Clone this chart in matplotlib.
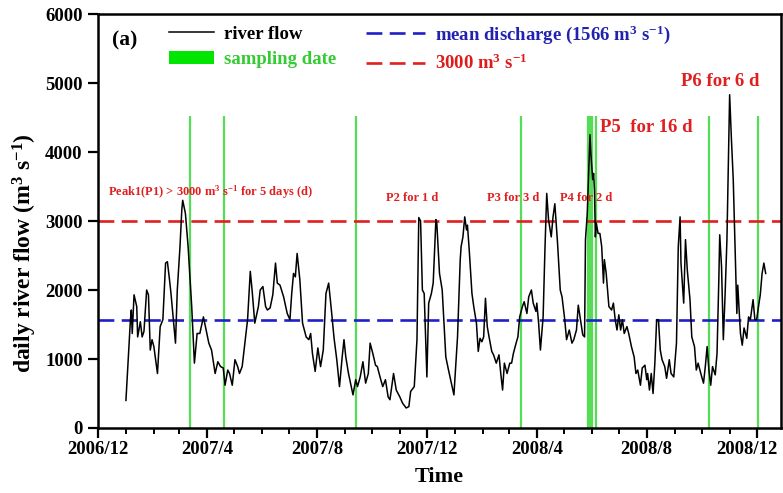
import numpy as np
import pandas as pd
import matplotlib
matplotlib.use('Agg')
import matplotlib.pyplot as plt
import matplotlib.dates as mdates
from matplotlib.lines import Line2D
from matplotlib.patches import Patch
from matplotlib.ticker import FuncFormatter
from matplotlib.transforms import ScaledTranslation

plt.rcParams['font.family'] = ['Liberation Serif', 'DejaVu Serif']
plt.rcParams['font.weight'] = 'bold'
plt.rcParams['mathtext.fontset'] = 'custom'
plt.rcParams['mathtext.rm'] = 'Liberation Serif:bold'
plt.rcParams['mathtext.bf'] = 'Liberation Serif:bold'
plt.rcParams['mathtext.it'] = 'Liberation Serif:bold'
plt.rcParams['mathtext.default'] = 'bf'

# daily river flow (days after 2006-12-01, m3/s)
START = pd.Timestamp('2006-12-01')
flow_day = [31, 36, 37, 38, 40, 43, 44, 47, 49, 51, 54, 56, 58, 60, 62, 66, 69, 72, 75, 77,
            79, 81, 83, 86, 88, 91, 93, 94, 97, 100, 104, 107, 110, 113, 117, 120, 123, 126, 130, 133,
            136, 139, 141, 144, 146, 149, 152, 155, 157, 160, 163, 166, 169, 171, 174, 178,
            180, 183, 186, 188, 191, 194, 197, 199, 202, 206, 210, 213, 215, 217, 219, 221, 224, 227,
            231, 234, 236, 238, 241, 244, 247, 250, 253, 256, 259, 262, 265, 268, 271, 273, 275, 278,
            281, 283, 286, 288, 291, 294, 297, 300, 302, 305, 308, 310, 313, 316, 319, 322, 324, 328,
            331, 335, 338, 342, 345, 347, 351, 354, 356, 358,
            360, 362, 365, 367, 370, 372, 375, 376, 379, 382, 386, 389, 393, 395, 399, 402, 403, 405,
            407, 409, 410, 412, 415, 417, 420, 422, 424, 426, 428, 430, 432, 434, 437, 439, 442, 445,
            447, 449, 451, 454, 457, 459, 461, 464, 466, 468, 471, 473, 476, 478, 481, 483, 486, 487,
            489, 491, 494, 496, 498, 500, 503, 505, 507, 510, 513, 515, 518, 520, 523, 526, 528, 531,
            533, 536, 538, 540,
            541, 543, 545, 546, 547, 549, 550, 551, 552, 553, 555, 557, 559, 561, 562, 564, 567, 570,
            572, 574, 576, 578, 580, 582, 584, 587, 589, 592, 595, 597, 599, 602, 604, 607, 609, 610,
            612, 614, 616, 618, 620, 622, 624, 626, 629, 631, 634, 636, 639, 642, 644, 646, 647, 650,
            652, 654, 657, 659, 662, 664, 666, 669, 672, 674, 676, 678, 680, 682, 685, 687, 689, 690,
            692, 694, 696, 698, 700, 701, 703, 705, 707, 709, 710, 713, 715, 717, 720, 722, 724, 727,
            729, 731, 733, 735, 737, 739, 741]
flow_val = [400, 1570, 1710, 1370, 1930, 1760, 1320, 1540, 1320, 1400, 2000, 1930, 1130, 1280, 1180, 790, 1470, 1570, 2390, 2410,
            2190, 1950, 1660, 1230, 2000, 2630, 3160, 3300, 3110, 2630, 1760, 940, 1370, 1370, 1610, 1420, 1230, 1130, 790, 960,
            890, 870, 620, 840, 790, 620, 990, 890, 790, 890, 1230, 1570, 2270, 2000, 1520, 1760,
            2000, 2050, 1760, 1710, 1740, 1930, 2390, 2100, 2070, 1900, 1660, 1570, 1950, 2240, 2190, 2530, 2150, 1520,
            1320, 1280, 1370, 1080, 820, 1160, 890, 1130, 1950, 2100, 1710, 1300, 990, 600, 1030, 1280, 1030, 790,
            600, 480, 700, 600, 740, 960, 650, 790, 1230, 1080, 910, 890, 740, 600, 700, 450, 410, 790,
            550, 450, 360, 290, 310, 530, 600, 1280, 3050, 3000,
            2000, 1950, 740, 1810, 1950, 2100, 3020, 2970, 2240, 2000, 1030, 840, 600, 480, 1320, 2440, 2630, 2770,
            3060, 2870, 2940, 2580, 1950, 1760, 1520, 1110, 1300, 1250, 1320, 1880, 1470, 1320, 1110, 1060, 940, 1060,
            790, 550, 940, 790, 940, 940, 1080, 1230, 1320, 1610, 1760, 1830, 1660, 1900, 2000, 1810, 1690, 1810,
            1520, 1130, 1610, 2580, 3400, 3020, 2770, 3060, 3250, 2680, 2000, 1900, 1570, 1280, 1420, 1230, 1280, 1420,
            1780, 1520, 1350, 1320,
            2730, 3110, 3840, 4250, 3980, 3600, 3690, 3450, 2770, 2970, 2820, 2820, 2630, 2100, 2440, 2240, 1760, 1710,
            1810, 1570, 1420, 1640, 1420, 1570, 1370, 1470, 1370, 1180, 1030, 790, 840, 620, 870, 910, 700, 790,
            550, 790, 500, 940, 1570, 1570, 1130, 990, 890, 720, 990, 790, 740, 1230, 2630, 3060, 2390, 1810,
            2730, 2290, 1860, 1320, 1180, 840, 940, 790, 650, 890, 1180, 840, 620, 890, 770, 1080, 2150, 2800,
            2340, 1280, 1950, 2730, 4080, 4830, 4180, 3600, 2630, 1660, 2070, 1370, 1200, 1450, 1300, 1610, 1570, 1860,
            1570, 1570, 1760, 1930, 2240, 2390, 2240]

# sampling dates (days after 2006-12-01)
sample_day = [102, 140, 286, 470, 544, 546, 548, 553, 678, 732]

MEAN_Q = 1566
LIMIT_Q = 3000

peak_labels = ['Peak1(P1) > 3000 m$^{3}$ s$^{-1}$ for 5 days (d)', 'P2 for 1 d', 'P3 for 3 d',
               'P4 for 2 d', 'P5  for 16 d', 'P6 for 6 d']
peak_day = [11, 349, 461, 542, 557, 691]
peak_y = [3420, 3330, 3330, 3340, 4350, 5020]
peak_size = [9, 9, 9, 9, 13.5, 13.5]
peak_ha = ['left', 'center', 'center', 'center', 'left', 'center']

t = START + pd.to_timedelta(flow_day, unit='D')
ts = START + pd.to_timedelta(sample_day, unit='D')
tp = START + pd.to_timedelta(peak_day, unit='D')

fig = plt.figure(figsize=(7.83, 4.93), dpi=100)
ax = fig.add_axes([98 / 783, 1 - 428 / 493, (781 - 98) / 783, (428 - 14) / 493])

GREEN = '#55dd55'
RED = '#e02020'
BLUE = '#2020c8'

ax.vlines(ts, 0, 4520, color=GREEN, lw=1.6, zorder=1)
ax.axhline(MEAN_Q, color=BLUE, lw=1.9, dashes=(6, 2.8), zorder=2)
ax.axhline(LIMIT_Q, color=RED, lw=1.9, dashes=(6, 2.8), zorder=2)
ax.plot(t, flow_val, color='black', lw=1.1, zorder=3)

for lab, x, y, s, ha in zip(peak_labels, tp, peak_y, peak_size, peak_ha):
    ax.text(x, y, lab, color=RED, fontsize=s, fontweight='bold', ha=ha, va='center')

ax.text(0.021, 0.935, '(a)', transform=ax.transAxes, fontsize=15.5, fontweight='bold',
        va='center', ha='left')

# legend: two separate columns
h1 = [Line2D([], [], color='black', lw=1.1), Patch(facecolor='#00e600', edgecolor='none')]
l1 = ['river flow', 'sampling date']
leg1 = ax.legend(h1, l1, loc='upper left', bbox_to_anchor=(0.093, 0.99),
                 frameon=False, fontsize=13.5, handlelength=2.4, handleheight=0.7,
                 handletextpad=0.55, labelspacing=0.42, borderaxespad=0)
for txt, c in zip(leg1.get_texts(), ['black', '#33cc33']):
    txt.set_color(c)
ax.add_artist(leg1)

h2 = [Line2D([], [], color=BLUE, lw=1.9, dashes=(6, 2.8)),
      Line2D([], [], color=RED, lw=1.9, dashes=(6, 2.8))]
l2 = ['mean discharge (1566 m$^{3}$ s$^{-1}$)', '3000 m$^{3}$ s$^{-1}$']
leg2 = ax.legend(h2, l2, loc='upper left', bbox_to_anchor=(0.382, 0.995),
                 frameon=False, fontsize=13.5, handlelength=3.1, handleheight=0.7,
                 handletextpad=0.55, labelspacing=0.42, borderaxespad=0)
for txt, c in zip(leg2.get_texts(), ['#2222b0', '#dd1c1c']):
    txt.set_color(c)

ax.set_xlim(START, START + pd.Timedelta(days=758))
ax.set_ylim(0, 6000)
ax.set_yticks(np.arange(0, 6001, 1000))
ax.xaxis.set_major_locator(mdates.MonthLocator(bymonth=[4, 8, 12]))
ax.xaxis.set_minor_locator(mdates.MonthLocator())
ax.xaxis.set_major_formatter(FuncFormatter(lambda v, p: '%d/%d' % (mdates.num2date(v).year, mdates.num2date(v).month)))

ax.tick_params(axis='both', which='major', direction='out', length=7, width=1.6, labelsize=13.5, pad=4)
ax.tick_params(axis='x', which='major', pad=2)
ax.tick_params(axis='x', which='minor', direction='out', length=4, width=1.4)
for sp in ax.spines.values():
    sp.set_linewidth(1.8)

# pull the last date label a little left so it stays inside the figure
last = ax.xaxis.get_major_ticks()[-1].label1
last.set_transform(last.get_transform() + ScaledTranslation(-7 / 72, 0, fig.dpi_scale_trans))

ax.set_xlabel('Time', fontsize=16, fontweight='bold', labelpad=7)
ax.set_ylabel('daily river flow (m$^{3}$ s$^{-1}$)', fontsize=17, fontweight='bold')
ax.yaxis.set_label_coords(-0.086, 0.423)

plt.savefig('out.png', dpi=100)
